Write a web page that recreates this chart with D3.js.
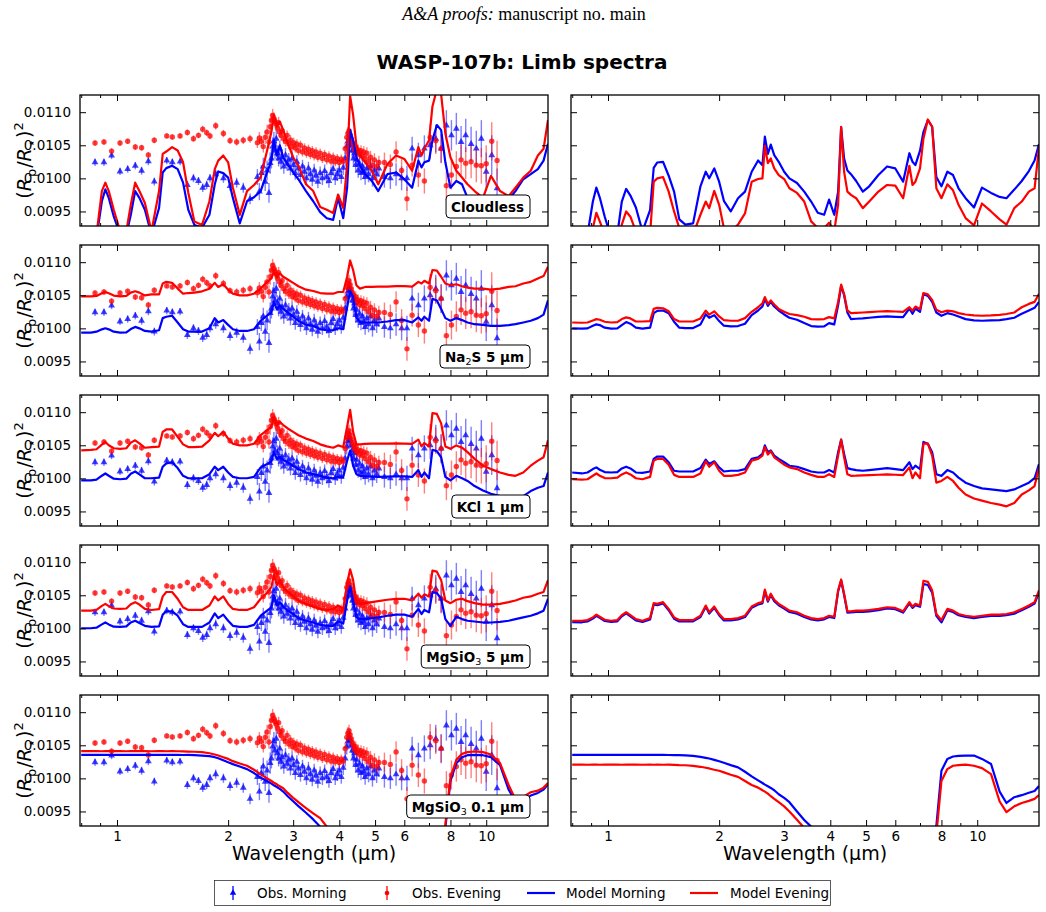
<!DOCTYPE html>
<html>
<head>
<meta charset="utf-8">
<title>WASP-107b: Limb spectra</title>
<script src="https://cdn.jsdelivr.net/npm/d3@7"></script>
<style>
  body { margin: 0; background: #fff; }
  text { font-family: "DejaVu Sans", sans-serif; }
</style>
</head>
<body>
<div id="chart-area"></div>
<script>
/*
*    limb spectra, morning vs evening
*/

// model wavelength grid (micron)
var wave = [0.80, 0.85, 0.88, 0.91, 0.93, 0.95, 0.98, 1.02, 1.06, 1.09, 1.12, 1.15,
    1.19, 1.24, 1.30, 1.33, 1.36, 1.41, 1.46, 1.51, 1.56, 1.62, 1.70, 1.78,
    1.84, 1.88, 1.94, 2.00, 2.06, 2.15, 2.25, 2.35, 2.45, 2.55, 2.62, 2.66,
    2.71, 2.76, 2.82, 2.90, 3.00, 3.10, 3.25, 3.40, 3.55, 3.70, 3.85, 3.97,
    4.10, 4.20, 4.28, 4.36, 4.45, 4.55, 4.70, 4.90, 5.10, 5.40, 5.70, 6.00,
    6.30, 6.55, 6.68, 6.80, 7.00, 7.15, 7.35, 7.55, 7.75, 8.00, 8.30, 8.60,
    8.90, 9.30, 9.80, 10.3, 10.9, 11.5, 12.0, 12.6, 13.2, 13.8, 14.3, 14.7];

// model transit depths, ppm
var cloudlessLeftMorning = [9150, 9050, 9100, 9654, 9833, 9705, 9424, 9150, 9150, 9449, 9808, 9705,
    9526, 9150, 9552, 10089, 10155, 10191, 10140, 9935, 9526, 9296, 9255, 9450,
    9910, 10104, 10079, 10012, 9705, 9321, 9654, 9715, 9808, 10089, 10268, 10575,
    10345, 10498, 10319, 10207, 10089, 9987, 9808, 9654, 9490, 9398, 9373, 9705,
    9398, 9859, 10729, 10575, 10319, 10191, 10063, 9961, 9808, 10063, 10089, 9987,
    9859, 10268, 10166, 10243, 10268, 10575, 10806, 10729, 10243, 9859, 9961, 9910,
    9705, 9654, 9552, 9603, 9628, 9680, 9808, 9987, 10063, 10140, 10268, 10524];
var cloudlessLeftEvening = [9270, 9100, 9150, 9808, 9935, 9808, 9526, 9200, 9200, 9603, 9935, 9808,
    9628, 9200, 9808, 10370, 10406, 10473, 10422, 10243, 9782, 9347, 9296, 9654,
    10140, 10268, 10345, 10243, 9859, 9449, 9808, 9900, 10012, 10422, 10703, 10959,
    10780, 10857, 10729, 10534, 10319, 10191, 9910, 9808, 9567, 9526, 9475, 9756,
    9552, 10217, 11241, 10959, 10498, 10345, 10243, 10115, 9910, 10217, 10345, 10294,
    10115, 10473, 10345, 10447, 10575, 11087, 11343, 11266, 10678, 10319, 10115, 10012,
    9910, 9808, 9705, 10038, 9808, 9731, 9859, 10012, 10115, 10345, 10447, 10882];
var cloudlessRightMorning = [9260, 9100, 9150, 9650, 9860, 9710, 9420, 9100, 9150, 9650, 9840, 9740,
    9560, 9200, 9520, 10160, 10240, 10250, 10040, 9800, 9380, 9300, 9320, 9880,
    10100, 10000, 10150, 9950, 9660, 9500, 9700, 9800, 10100, 10270, 10200, 10630,
    10370, 10510, 10350, 10250, 10100, 10000, 9930, 9800, 9650, 9480, 9450, 9680,
    9450, 9800, 10770, 10300, 10120, 10063, 9960, 9800, 9880, 10050, 10180, 10150,
    9950, 10380, 10250, 10200, 10420, 10700, 10880, 10780, 10020, 9880, 10100, 10050,
    9850, 9700, 9560, 9860, 9780, 9720, 9700, 9830, 9960, 10110, 10270, 10520];
var cloudlessRightEvening = [9200, 9100, 9100, 9250, 9480, 9350, 9150, 9050, 9100, 9300, 9500, 9420,
    9200, 9050, 9150, 9950, 10000, 10020, 9800, 9500, 9250, 9150, 9150, 9450,
    9650, 9550, 9810, 9600, 9250, 9200, 9300, 9470, 9950, 9990, 10000, 10490,
    10230, 10300, 10150, 10050, 9990, 9850, 9780, 9650, 9350, 9250, 9250, 9330,
    9200, 9600, 10780, 10100, 9800, 9750, 9700, 9550, 9650, 9800, 9900, 9890,
    9700, 10190, 9900, 9950, 10150, 10600, 10890, 10780, 9850, 9700, 9910, 9820,
    9600, 9400, 9290, 9620, 9500, 9380, 9300, 9550, 9650, 9800, 9850, 10470];

var na2sLeftMorning = [9935, 9935, 9950, 9985, 10002, 9985, 9950, 9935, 9940, 9990, 10022, 10000,
    9961, 9951, 9971, 10155, 10176, 10191, 10089, 9987, 9951, 9951, 9951, 10002,
    10155, 10089, 10125, 10053, 9987, 9961, 9961, 9987, 10115, 10191, 10243, 10396,
    10294, 10345, 10294, 10243, 10176, 10115, 10053, 10038, 9987, 9971, 9971, 10002,
    9987, 10319, 10565, 10473, 10166, 10089, 10089, 10089, 10089, 10104, 10125, 10125,
    10089, 10166, 10115, 10176, 10115, 10447, 10422, 10294, 10155, 10115, 10155, 10125,
    10089, 10063, 10053, 10038, 10038, 10048, 10063, 10089, 10115, 10155, 10207, 10422];
var na2sLeftEvening = [10483, 10483, 10490, 10530, 10550, 10530, 10495, 10483, 10490, 10540, 10560, 10540,
    10498, 10514, 10514, 10678, 10703, 10688, 10601, 10524, 10534, 10540, 10560, 10600,
    10688, 10626, 10667, 10585, 10524, 10498, 10498, 10524, 10601, 10703, 10754, 10857,
    10770, 10831, 10780, 10739, 10688, 10637, 10585, 10565, 10534, 10524, 10524, 10550,
    10550, 10780, 11026, 10882, 10652, 10601, 10626, 10626, 10630, 10630, 10637, 10637,
    10630, 10703, 10678, 10719, 10678, 10882, 10872, 10780, 10678, 10652, 10667, 10637,
    10616, 10601, 10601, 10585, 10601, 10626, 10637, 10678, 10703, 10754, 10790, 10933];
var na2sRightMorning = [10000, 9995, 10000, 10040, 10060, 10050, 10010, 9995, 10000, 10050, 10095, 10070,
    10010, 9995, 10010, 10230, 10265, 10270, 10230, 10100, 10010, 10005, 10005, 10060,
    10215, 10160, 10200, 10110, 10040, 10030, 10035, 10070, 10200, 10270, 10330, 10445,
    10340, 10400, 10330, 10270, 10210, 10160, 10130, 10080, 10035, 10025, 10030, 10080,
    10060, 10350, 10640, 10500, 10240, 10140, 10145, 10150, 10160, 10175, 10180, 10175,
    10170, 10300, 10220, 10300, 10250, 10520, 10490, 10400, 10240, 10190, 10230, 10210,
    10180, 10140, 10120, 10115, 10120, 10125, 10140, 10160, 10220, 10270, 10310, 10400];
var na2sRightEvening = [10089, 10085, 10089, 10120, 10140, 10130, 10100, 10089, 10095, 10140, 10166, 10150,
    10104, 10104, 10110, 10294, 10310, 10304, 10260, 10140, 10104, 10104, 10104, 10150,
    10268, 10207, 10258, 10180, 10125, 10115, 10115, 10155, 10250, 10319, 10380, 10473,
    10370, 10422, 10360, 10294, 10250, 10217, 10200, 10176, 10140, 10135, 10140, 10170,
    10150, 10400, 10662, 10520, 10270, 10230, 10235, 10240, 10245, 10255, 10260, 10255,
    10250, 10319, 10268, 10330, 10290, 10534, 10514, 10430, 10280, 10243, 10268, 10258,
    10230, 10210, 10195, 10191, 10195, 10205, 10217, 10240, 10319, 10370, 10400, 10524];

var kclLeftMorning = [9971, 9971, 9980, 10040, 10074, 10040, 9995, 9987, 9995, 10070, 10104, 10060,
    10002, 10002, 10010, 10176, 10227, 10243, 10155, 10038, 10002, 10002, 10002, 10063,
    10176, 10125, 10176, 10089, 10022, 10002, 10002, 10022, 10166, 10217, 10258, 10396,
    10294, 10330, 10278, 10243, 10191, 10140, 10089, 10063, 10038, 10012, 10002, 10022,
    10022, 10268, 10420, 10191, 10063, 10038, 10030, 10025, 10022, 10025, 10030, 10030,
    10022, 10125, 10022, 10089, 10002, 10432, 10411, 10319, 10022, 9971, 10038, 10002,
    9961, 9884, 9818, 9767, 9731, 9715, 9705, 9731, 9808, 9859, 9884, 10089];
var kclLeftEvening = [10422, 10432, 10440, 10510, 10550, 10500, 10455, 10447, 10455, 10540, 10575, 10530,
    10463, 10473, 10480, 10703, 10739, 10739, 10626, 10514, 10473, 10473, 10480, 10575,
    10688, 10637, 10703, 10601, 10524, 10498, 10498, 10524, 10652, 10729, 10780, 10933,
    10806, 10857, 10806, 10754, 10703, 10652, 10601, 10565, 10514, 10483, 10463, 10498,
    10473, 10780, 11036, 10703, 10514, 10514, 10520, 10524, 10524, 10524, 10530, 10524,
    10520, 10585, 10483, 10534, 10483, 10985, 10974, 10831, 10483, 10447, 10498, 10463,
    10396, 10294, 10191, 10140, 10089, 10053, 10038, 10089, 10191, 10268, 10319, 10575];
var kclRightMorning = [10089, 10074, 10089, 10140, 10166, 10130, 10095, 10089, 10095, 10150, 10176, 10150,
    10089, 10084, 10104, 10294, 10330, 10330, 10243, 10115, 10104, 10104, 10104, 10155,
    10283, 10217, 10258, 10166, 10104, 10115, 10115, 10140, 10294, 10319, 10370, 10498,
    10396, 10422, 10345, 10294, 10243, 10191, 10176, 10140, 10104, 10089, 10089, 10125,
    10089, 10396, 10585, 10370, 10155, 10140, 10125, 10115, 10125, 10140, 10155, 10140,
    10125, 10243, 10140, 10191, 10140, 10550, 10524, 10396, 10063, 10038, 10125, 10089,
    10012, 9935, 9884, 9848, 9833, 9818, 9808, 9833, 9884, 9935, 10002, 10217];
var kclRightEvening = [9987, 9980, 9987, 10040, 10074, 10040, 10005, 10002, 10010, 10060, 10089, 10060,
    10002, 9987, 10022, 10268, 10294, 10294, 10207, 10053, 10022, 10022, 10022, 10074,
    10258, 10176, 10243, 10115, 10038, 10038, 10053, 10089, 10268, 10294, 10345, 10473,
    10360, 10411, 10319, 10268, 10207, 10166, 10140, 10089, 10053, 10022, 10022, 10063,
    10022, 10345, 10585, 10319, 10063, 10038, 10040, 10045, 10050, 10055, 10060, 10055,
    10050, 10166, 10002, 10089, 10002, 10524, 10524, 10345, 9935, 9961, 10022, 9961,
    9859, 9756, 9695, 9664, 9628, 9603, 9577, 9628, 9756, 9818, 9884, 10166];

var mgsio5LeftMorning = [10002, 10002, 10010, 10060, 10089, 10060, 10025, 10022, 10030, 10090, 10115, 10080,
    10038, 10022, 10030, 10207, 10258, 10258, 10191, 10063, 10022, 10022, 10022, 10089,
    10227, 10155, 10207, 10115, 10038, 10022, 10022, 10053, 10191, 10268, 10319, 10498,
    10345, 10396, 10330, 10268, 10217, 10155, 10115, 10089, 10053, 10038, 10038, 10104,
    10074, 10422, 10637, 10422, 10166, 10140, 10140, 10155, 10166, 10191, 10207, 10207,
    10176, 10294, 10217, 10278, 10243, 10550, 10534, 10447, 10140, 10038, 10176, 10140,
    10115, 10104, 10089, 10089, 10099, 10115, 10140, 10166, 10191, 10227, 10268, 10447];
var mgsio5LeftEvening = [10268, 10268, 10280, 10340, 10370, 10335, 10300, 10294, 10300, 10365, 10396, 10360,
    10294, 10278, 10290, 10483, 10550, 10550, 10447, 10319, 10278, 10278, 10278, 10345,
    10483, 10422, 10483, 10370, 10294, 10278, 10278, 10319, 10447, 10534, 10626, 10806,
    10652, 10729, 10626, 10550, 10483, 10422, 10370, 10330, 10294, 10278, 10294, 10345,
    10294, 10678, 10893, 10729, 10396, 10370, 10381, 10396, 10411, 10432, 10447, 10447,
    10422, 10524, 10463, 10514, 10483, 10872, 10857, 10729, 10422, 10381, 10432, 10447,
    10411, 10381, 10360, 10360, 10370, 10396, 10422, 10463, 10483, 10524, 10550, 10729];
var mgsio5RightMorning = [10095, 10092, 10105, 10148, 10190, 10158, 10112, 10096, 10106, 10182, 10226, 10182,
    10120, 10096, 10136, 10362, 10352, 10378, 10274, 10146, 10104, 10104, 10106, 10172,
    10326, 10224, 10310, 10198, 10120, 10120, 10136, 10172, 10310, 10362, 10378, 10566,
    10404, 10505, 10412, 10350, 10300, 10248, 10222, 10172, 10136, 10120, 10136, 10172,
    10156, 10556, 10722, 10505, 10238, 10240, 10248, 10250, 10258, 10276, 10300, 10290,
    10238, 10378, 10310, 10350, 10326, 10670, 10655, 10540, 10190, 10090, 10270, 10248,
    10198, 10172, 10156, 10172, 10188, 10188, 10198, 10222, 10274, 10326, 10375, 10540];
var mgsio5RightEvening = [10115, 10115, 10125, 10166, 10207, 10176, 10130, 10115, 10125, 10200, 10243, 10200,
    10140, 10115, 10155, 10381, 10370, 10396, 10294, 10166, 10125, 10125, 10125, 10191,
    10345, 10243, 10330, 10217, 10140, 10140, 10155, 10191, 10330, 10381, 10396, 10585,
    10422, 10524, 10432, 10370, 10319, 10268, 10243, 10191, 10155, 10140, 10155, 10191,
    10176, 10575, 10739, 10524, 10258, 10258, 10268, 10268, 10278, 10294, 10319, 10309,
    10258, 10396, 10330, 10370, 10345, 10719, 10703, 10575, 10217, 10125, 10294, 10268,
    10217, 10191, 10176, 10191, 10207, 10207, 10217, 10243, 10294, 10345, 10396, 10575];

var mgsio01LeftMorning = [10355, 10356, 10355, 10354, 10355, 10356, 10355, 10355, 10354, 10355, 10356, 10355,
    10355, 10354, 10355, 10355, 10354, 10355, 10354, 10353, 10355, 10352, 10345, 10335,
    10320, 10305, 10275, 10243, 10215, 10180, 10140, 10080, 10010, 9960, 9920, 9895,
    9870, 9840, 9800, 9730, 9654, 9580, 9480, 9380, 9270, 9150, 9050, 8950,
    8900, 8870, 8850, 8830, 8800, 8780, 8760, 8740, 8720, 8700, 8700, 8700,
    8700, 8700, 8700, 8700, 8700, 8720, 8760, 8850, 9250, 9961, 10230, 10320,
    10350, 10355, 10350, 10320, 10200, 9830, 9654, 9670, 9740, 9780, 9830, 9910];
var mgsio01LeftEvening = [10411, 10412, 10411, 10410, 10411, 10412, 10411, 10411, 10410, 10411, 10412, 10411,
    10411, 10410, 10411, 10411, 10410, 10411, 10410, 10408, 10405, 10402, 10396, 10380,
    10360, 10345, 10320, 10294, 10260, 10225, 10191, 10130, 10060, 10000, 9960, 9935,
    9910, 9880, 9850, 9780, 9705, 9640, 9552, 9470, 9398, 9270, 9150, 9050,
    8950, 8900, 8860, 8830, 8800, 8780, 8760, 8740, 8720, 8700, 8700, 8700,
    8700, 8700, 8700, 8700, 8700, 8750, 8800, 8900, 9300, 10012, 10280, 10370,
    10396, 10406, 10396, 10360, 10230, 9900, 9680, 9720, 9790, 9815, 9860, 9930];
var mgsio01RightMorning = [10355, 10357, 10354, 10355, 10356, 10354, 10355, 10356, 10355, 10354, 10355, 10356,
    10355, 10354, 10355, 10354, 10355, 10354, 10353, 10352, 10350, 10348, 10340, 10325,
    10310, 10300, 10280, 10258, 10235, 10200, 10166, 10100, 10030, 9970, 9930, 9905,
    9880, 9855, 9820, 9760, 9705, 9640, 9500, 9370, 9270, 9150, 9050, 8950,
    8900, 8870, 8850, 8830, 8800, 8780, 8760, 8740, 8720, 8700, 8700, 8700,
    8700, 8700, 8700, 8700, 8700, 8720, 8760, 8800, 9280, 10115, 10294, 10330,
    10340, 10345, 10345, 10294, 10217, 9800, 9628, 9715, 9746, 9782, 9808, 9884];
var mgsio01RightEvening = [10207, 10208, 10206, 10207, 10208, 10206, 10207, 10208, 10207, 10206, 10207, 10208,
    10207, 10206, 10207, 10206, 10207, 10206, 10207, 10205, 10200, 10198, 10190, 10175,
    10160, 10150, 10130, 10115, 10090, 10055, 10022, 9960, 9900, 9860, 9820, 9800,
    9770, 9730, 9690, 9640, 9577, 9500, 9373, 9250, 9150, 9050, 8950, 8900,
    8870, 8850, 8830, 8800, 8780, 8760, 8740, 8720, 8700, 8700, 8700, 8700,
    8700, 8700, 8700, 8700, 8700, 8720, 8760, 8800, 9150, 9961, 10140, 10191,
    10200, 10207, 10191, 10155, 10063, 9650, 9490, 9577, 9628, 9660, 9690, 9746];

// observed limb spectra (same in every left panel), ppm
var obsWave = [0.872, 0.922, 0.967, 1.019, 1.069, 1.121, 1.166, 1.216, 1.262, 1.364, 1.412, 1.482,
    1.551, 1.611, 1.662, 1.707, 1.750, 1.786, 1.851, 1.942, 2.024, 2.109, 2.198, 2.293,
    2.40, 2.43, 2.46, 2.49, 2.52, 2.55, 2.58, 2.60, 2.62, 2.64, 2.66, 2.68,
    2.70, 2.72, 2.74, 2.76, 2.78, 2.80, 2.83, 2.86, 2.89, 2.92, 2.95, 2.98,
    3.01, 3.04, 3.07, 3.10, 3.14, 3.18, 3.22, 3.26, 3.30, 3.34, 3.38, 3.42,
    3.46, 3.50, 3.55, 3.60, 3.65, 3.70, 3.75, 3.80, 3.85, 3.90, 3.95, 4.00,
    4.05, 4.10, 4.15, 4.19, 4.22, 4.25, 4.28, 4.31, 4.34, 4.37, 4.40, 4.43,
    4.46, 4.50, 4.54, 4.58, 4.62, 4.66, 4.70, 4.75, 4.80, 4.86, 4.92, 4.98,
    5.05, 5.12,
    5.30, 5.50, 5.70, 5.90, 6.10, 6.30, 6.55, 6.80, 7.05, 7.30, 7.55, 7.80,
    8.05, 8.30, 8.55, 8.80, 9.10, 9.40, 9.70, 10.0, 10.35, 10.7];
var obsMorning = [10243, 10243, 10345, 10104, 10140, 10191, 10115, 10258, 9951, 10268, 10243, 10253,
    9900, 10002, 9960, 9859, 9900, 10002, 10063, 10002, 9884, 9935, 9859, 9690,
    10020, 9800, 10080, 10180, 9950, 10120, 9780, 10230, 10300, 10480, 10560, 10420,
    10600, 10380, 10300, 10450, 10250, 10320, 10180, 10350, 10220, 10280, 10150, 10300,
    10200, 10080, 10250, 10150, 10050, 10180, 10100, 10000, 10150, 10060, 9980, 10120,
    10040, 9950, 10080, 10000, 10110, 10020, 9960, 10080, 10140, 10000, 10060, 10120,
    10020, 10160, 10300, 10480, 10560, 10620, 10580, 10500, 10420, 10300, 10380, 10200,
    10280, 10120, 10220, 10080, 10180, 10100, 10020, 10150, 10060, 10180, 10000, 10120,
    10060, 10150,
    10020, 10000, 10060, 10000, 10000, 10450, 10350, 10450, 10500, 10600, 10450, 10800,
    10650, 10750, 10550, 10650, 10520, 10450, 10600, 10100, 10350, 9850];
var obsMorningErr = [55, 55, 55, 55, 55, 55, 60, 60, 60, 55, 55, 55,
    60, 60, 60, 65, 65, 65, 70, 70, 70, 75, 75, 80,
    120, 130, 120, 130, 140, 150, 150, 160, 150, 140, 140, 130,
    130, 120, 120, 115, 115, 110, 110, 110, 105, 105, 105, 105,
    100, 100, 100, 100, 100, 100, 100, 100, 100, 100, 100, 100,
    100, 100, 100, 100, 100, 100, 100, 100, 100, 100, 100, 100,
    100, 110, 120, 120, 125, 120, 120, 115, 115, 110, 110, 110,
    110, 110, 110, 110, 110, 115, 115, 120, 120, 125, 125, 130,
    130, 130,
    160, 160, 170, 180, 190, 180, 190, 200, 210, 210, 220, 230,
    230, 240, 240, 250, 260, 270, 280, 290, 300, 300];
var obsEvening = [10534, 10550, 10412, 10534, 10560, 10473, 10463, 10355, 10575, 10642, 10626, 10642,
    10693, 10600, 10650, 10744, 10690, 10640, 10795, 10678, 10570, 10550, 10575, 10600,
    10540, 10610, 10560, 10480, 10620, 10700, 10550, 10780, 10880, 10950, 10900, 10860,
    10820, 10760, 10840, 10700, 10650, 10720, 10600, 10560, 10650, 10520, 10580, 10480,
    10540, 10460, 10520, 10420, 10500, 10400, 10460, 10380, 10440, 10360, 10420, 10340,
    10400, 10320, 10380, 10300, 10360, 10280, 10340, 10260, 10320, 10250, 10300, 10240,
    10290, 10260, 10450, 10620, 10680, 10720, 10660, 10600, 10540, 10500, 10440, 10480,
    10400, 10430, 10360, 10420, 10340, 10400, 10300, 10380, 10250, 10320, 10200, 10280,
    10180, 10240,
    10240, 10210, 10400, 10120, 9690, 10200, 10050, 9960, 10620, 10570, 10450, 9890,
    10050, 10180, 10280, 10230, 10250, 10200, 10190, 10220, 10560, 10270];
var obsEveningErr = [40, 40, 45, 40, 40, 45, 45, 45, 45, 40, 40, 40,
    45, 50, 45, 50, 50, 50, 55, 55, 50, 55, 55, 60,
    80, 90, 80, 90, 100, 110, 100, 120, 110, 100, 100, 90,
    100, 90, 90, 85, 85, 80, 80, 80, 75, 75, 75, 75,
    75, 70, 70, 70, 70, 70, 70, 70, 70, 70, 70, 70,
    70, 70, 70, 70, 70, 70, 70, 70, 70, 70, 70, 70,
    70, 75, 90, 90, 95, 90, 90, 85, 85, 80, 80, 80,
    80, 80, 80, 80, 80, 85, 85, 90, 90, 95, 95, 100,
    100, 100,
    150, 150, 160, 170, 180, 170, 180, 190, 200, 200, 210, 220,
    220, 230, 230, 240, 250, 260, 270, 280, 290, 300];

// panel labels (text pieces, "sub" for subscripts)
var rowLabels = [
    [["Cloudless"]],
    [["Na"], ["2", "sub"], ["S 5 µm"]],
    [["KCl 1 µm"]],
    [["MgSiO"], ["3", "sub"], [" 5 µm"]],
    [["MgSiO"], ["3", "sub"], [" 0.1 µm"]]
];
var rowModels = [
    [[cloudlessLeftMorning, cloudlessLeftEvening], [cloudlessRightMorning, cloudlessRightEvening]],
    [[na2sLeftMorning, na2sLeftEvening], [na2sRightMorning, na2sRightEvening]],
    [[kclLeftMorning, kclLeftEvening], [kclRightMorning, kclRightEvening]],
    [[mgsio5LeftMorning, mgsio5LeftEvening], [mgsio5RightMorning, mgsio5RightEvening]],
    [[mgsio01LeftMorning, mgsio01LeftEvening], [mgsio01RightMorning, mgsio01RightEvening]]
];

var xMajor = [1, 2, 3, 4, 5, 6, 8, 10];
var xMinor = [0.8, 0.9, 7, 9];
var yTicks = [0.0095, 0.0100, 0.0105, 0.0110];

var blue = "#0000ff", red = "#ff0000";

var width = 468;
var height = 131;
var colX = [80, 571];
var rowY = [95, 245, 395, 545, 695];

var svg = d3.select("#chart-area").append("svg")
    .attr("width", 1046)
    .attr("height", 912);

svg.append("rect").attr("width", 1046).attr("height", 912).attr("fill", "#fff");

svg.append("defs").append("clipPath")
    .attr("id", "panel-clip")
    .append("rect")
        .attr("width", width)
        .attr("height", height);

var x = d3.scaleLog()
    .domain([0.794, 14.7])
    .range([0, width]);

var y = d3.scaleLinear()
    .domain([0.00928, 0.01126])
    .range([height, 0]);

var line = d3.line()
    .x((d) => x(d[0]))
    .y((d) => y(d[1] * 1e-6));

// page header + title
var head = svg.append("text")
    .attr("x", 524)
    .attr("y", 20)
    .attr("text-anchor", "middle")
    .style("font-family", "'Liberation Serif', serif")
    .style("font-size", "18px");
head.append("tspan").style("font-style", "italic").text("A&A proofs:");
head.append("tspan").text(" manuscript no. main");

svg.append("text")
    .attr("x", 522)
    .attr("y", 69)
    .attr("text-anchor", "middle")
    .style("font-size", "20px")
    .style("font-weight", "bold")
    .text("WASP-107b: Limb spectra");

function drawObs(g, vals, errs, color, marker) {
    var pts = obsWave.map((w, i) => ({ w: w, v: vals[i] * 1e-6, e: errs[i] * 1e-6 }));

    g.selectAll(null).data(pts).enter()
        .append("line")
            .attr("x1", (d) => x(d.w))
            .attr("x2", (d) => x(d.w))
            .attr("y1", (d) => y(d.v - d.e))
            .attr("y2", (d) => y(d.v + d.e))
            .attr("stroke", color)
            .attr("stroke-width", 1.4)
            .attr("stroke-opacity", 0.5);

    if (marker == "tri") {
        g.selectAll(null).data(pts).enter()
            .append("path")
                .attr("d", d3.symbol().type(d3.symbolTriangle).size(20))
                .attr("transform", (d) => "translate(" + x(d.w) + "," + y(d.v) + ")")
                .attr("fill", color)
                .attr("fill-opacity", 0.75);
    } else {
        g.selectAll(null).data(pts).enter()
            .append("circle")
                .attr("cx", (d) => x(d.w))
                .attr("cy", (d) => y(d.v))
                .attr("r", 2.7)
                .attr("fill", color)
                .attr("fill-opacity", 0.75);
    }
}

function drawAxes(g, isLeft, isBottom) {
    var fmtX = isBottom ? d3.format("d") : "";

    var axes = [
        { t: "translate(0," + height + ")", a: d3.axisBottom(x).tickValues(xMajor).tickSizeInner(-6).tickPadding(5).tickFormat(fmtX) },
        { t: "translate(0," + height + ")", a: d3.axisBottom(x).tickValues(xMinor).tickSizeInner(-3).tickFormat("") },
        { t: "translate(0,0)", a: d3.axisTop(x).tickValues(xMajor).tickSizeInner(-6).tickFormat("") },
        { t: "translate(0,0)", a: d3.axisTop(x).tickValues(xMinor).tickSizeInner(-3).tickFormat("") },
        { t: "translate(0,0)", a: d3.axisLeft(y).tickValues(yTicks).tickSizeInner(-6).tickPadding(9)
            .tickFormat(isLeft ? d3.format(".4f") : "") },
        { t: "translate(" + width + ",0)", a: d3.axisRight(y).tickValues(yTicks).tickSizeInner(-6).tickFormat("") }
    ];

    axes.forEach((ax) => {
        var ag = g.append("g")
            .attr("transform", ax.t)
            .call(ax.a.tickSizeOuter(0));
        ag.select(".domain").remove();
        ag.attr("font-size", 13.5).attr("font-family", null);
        ag.selectAll("line").attr("stroke", "#000").attr("stroke-width", 1);
        ag.selectAll("text").attr("fill", "#000");
    });

    g.append("rect")
        .attr("width", width)
        .attr("height", height)
        .attr("fill", "none")
        .attr("stroke", "#000")
        .attr("stroke-width", 1.3);
}

function drawLabel(g, parts) {
    var box = g.append("rect");
    var t = g.append("text")
        .attr("x", 444)
        .attr("y", 117)
        .attr("text-anchor", "end")
        .style("font-size", "13.5px")
        .style("font-weight", "bold");
    parts.forEach((p, k) => {
        var s = t.append("tspan").text(p[0]);
        if (p[1] == "sub") {
            s.attr("dy", 3).style("font-size", "9.5px").style("font-weight", "normal");
        } else if (k > 0 && parts[k - 1][1] == "sub") {
            s.attr("dy", -3);
        }
    });
    var bb = t.node().getBBox();
    box.attr("x", bb.x - 5)
        .attr("y", 100)
        .attr("width", bb.width + 11)
        .attr("height", 23)
        .attr("rx", 4)
        .attr("fill", "#fff")
        .attr("stroke", "#000")
        .attr("stroke-width", 1);
}

rowModels.forEach((models, i) => {
    [0, 1].forEach((c) => {
        var g = svg.append("g")
            .attr("transform", "translate(" + colX[c] + ", " + rowY[i] + ")");

        var pg = g.append("g").attr("clip-path", "url(#panel-clip)");

        if (c == 0) {
            drawObs(pg, obsMorning, obsMorningErr, blue, "tri");
            drawObs(pg, obsEvening, obsEveningErr, red, "dot");
        }

        [blue, red].forEach((col, k) => {
            pg.append("path")
                .datum(wave.map((w, j) => [w, models[c][k][j]]))
                .attr("d", line)
                .attr("fill", "none")
                .attr("stroke", col)
                .attr("stroke-width", 2.2)
                .attr("stroke-linejoin", "round");
        });

        drawAxes(g, c == 0, i == rowModels.length - 1);

        if (c == 0) {
            drawLabel(g, rowLabels[i]);

            // y label
            var yl = svg.append("text")
                .attr("transform", "translate(31, " + (rowY[i] + height / 2) + ") rotate(-90)")
                .attr("text-anchor", "middle")
                .style("font-size", "19px");
            yl.append("tspan").text("(");
            yl.append("tspan").style("font-style", "italic").text("R");
            yl.append("tspan").attr("dy", 5).attr("dx", 1).style("font-size", "13px").text("p");
            yl.append("tspan").attr("dy", -5).attr("dx", 1).text("/");
            yl.append("tspan").style("font-style", "italic").text("R");
            yl.append("tspan").attr("dy", 5).attr("dx", 1).style("font-size", "13px").text("⋆");
            yl.append("tspan").attr("dy", -5).attr("dx", 1).text(")");
            yl.append("tspan").attr("dy", -8).style("font-size", "13px").text("2");
        }
    });
});

// x labels
colX.forEach((cx) => {
    svg.append("text")
        .attr("x", cx + width / 2)
        .attr("y", 860)
        .attr("text-anchor", "middle")
        .style("font-size", "19px")
        .text("Wavelength (µm)");
});

// legend
var leg = svg.append("g").attr("transform", "translate(214, 880)");
leg.append("rect")
    .attr("x", 0.5).attr("y", 0.5)
    .attr("width", 616).attr("height", 25)
    .attr("fill", "#fff")
    .attr("stroke", "#333")
    .attr("stroke-width", 0.8);

var legItems = [
    { x: 19, tx: 43, label: "Obs. Morning", color: blue, kind: "tri" },
    { x: 173, tx: 198, label: "Obs. Evening", color: red, kind: "dot" },
    { x: 313, tx: 352, label: "Model Morning", color: blue, kind: "line" },
    { x: 476, tx: 516, label: "Model Evening", color: red, kind: "line" }
];

legItems.forEach((d) => {
    var cy = 13;
    if (d.kind == "line") {
        leg.append("line")
            .attr("x1", d.x).attr("x2", d.x + 28)
            .attr("y1", cy).attr("y2", cy)
            .attr("stroke", d.color).attr("stroke-width", 2.2);
    } else {
        leg.append("line")
            .attr("x1", d.x).attr("x2", d.x)
            .attr("y1", cy - 7).attr("y2", cy + 7)
            .attr("stroke", d.color).attr("stroke-width", 1.3);
        if (d.kind == "tri") {
            leg.append("path")
                .attr("d", d3.symbol().type(d3.symbolTriangle).size(18))
                .attr("transform", "translate(" + d.x + "," + cy + ")")
                .attr("fill", d.color);
        } else {
            leg.append("circle").attr("cx", d.x).attr("cy", cy).attr("r", 2.3).attr("fill", d.color);
        }
    }
    leg.append("text").attr("x", d.tx).attr("y", cy + 5)
        .style("font-size", "13.5px").text(d.label);
});
</script>
</body>
</html>
